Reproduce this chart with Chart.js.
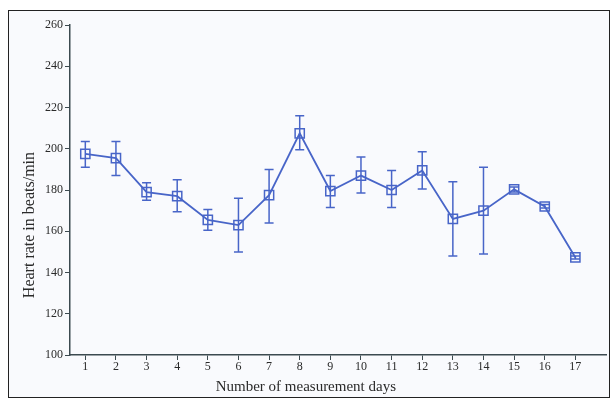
<!DOCTYPE html>
<html>
<head>
<meta charset="utf-8">
<script src="https://cdn.jsdelivr.net/npm/chart.js@4/dist/chart.umd.min.js"></script>
<style>
  html, body { margin: 0; padding: 0; background: #ffffff; }
  #wrap { position: relative; width: 614px; height: 401px; }
  #frame {
    position: absolute; left: 8px; top: 10px; width: 602px; height: 388px;
    border: 1px solid #222; background: #f9fafd; box-sizing: border-box;
  }
  #chart { position: absolute; left: 0; top: 0; }
</style>
</head>
<body>
<div id="wrap">
  <div id="frame"></div>
  <canvas id="chart" width="614" height="401"></canvas>
</div>
<script>
// measurement days and heart rate (beats/min) with error bar limits
const days = [1, 2, 3, 4, 5, 6, 7, 8, 9, 10, 11, 12, 13, 14, 15, 16, 17];
const heartRate = [197.5, 195.5, 179, 177, 165.5, 163, 177.5, 207.5, 179.5, 187, 180, 189.5, 166, 170, 180.3, 172, 147.3];
const upper = [203.5, 203.5, 183.5, 185, 170.5, 176, 190, 216, 187, 196, 189.5, 198.5, 184, 191, 181.5, 173, 148];
const lower = [191, 187, 175, 169.5, 160.5, 150, 164, 199.5, 171.5, 178.5, 171.5, 180.5, 148, 149, 179, 171.3, 146.5];
const yTicks = [100, 120, 140, 160, 180, 200, 220, 240, 260];

const xTitle = 'Number of measurement days';
const yTitle = 'Heart rate in beats/min';

const blue = '#4865c8';
const axisColor = '#3c4a50';
const serif = '"Liberation Serif", "DejaVu Serif", serif';

const errorBars = {
    id: 'errorBars',
    beforeDatasetsDraw(chart) {
        const { ctx, scales: { x, y } } = chart;
        ctx.save();
        ctx.strokeStyle = blue;
        ctx.lineWidth = 1.5;
        days.forEach((d, i) => {
            const px = x.getPixelForValue(d);
            const top = y.getPixelForValue(upper[i]);
            const bot = y.getPixelForValue(lower[i]);
            ctx.beginPath();
            ctx.moveTo(px, top); ctx.lineTo(px, bot);
            ctx.moveTo(px - 4.5, top); ctx.lineTo(px + 4.5, top);
            ctx.moveTo(px - 4.5, bot); ctx.lineTo(px + 4.5, bot);
            ctx.stroke();
        });
        ctx.restore();
    }
};

const axisTitles = {
    id: 'axisTitles',
    afterDraw(chart) {
        const { ctx, scales: { x, y } } = chart;
        ctx.save();
        ctx.fillStyle = '#2a2a2a';
        ctx.textAlign = 'center';
        ctx.textBaseline = 'middle';
        ctx.font = '15px ' + serif;
        ctx.fillText(xTitle, x.getPixelForValue(8.2), 387);
        ctx.translate(30, y.getPixelForValue(163));
        ctx.rotate(-Math.PI / 2);
        ctx.font = '16px ' + serif;
        ctx.fillText(yTitle, 0, 0);
        ctx.restore();
    }
};

const tickGrid = {
    display: true,
    drawOnChartArea: false,
    drawTicks: true,
    tickLength: 5,
    color: axisColor,
    lineWidth: 1
};

new Chart(document.getElementById('chart'), {
    type: 'line',
    data: {
        datasets: [{
            data: days.map((d, i) => ({ x: d, y: heartRate[i] })),
            borderColor: blue,
            borderWidth: 1.8,
            tension: 0,
            pointStyle: 'rect',
            pointRadius: 6.5,
            pointBorderWidth: 1.5,
            pointBorderColor: blue,
            pointBackgroundColor: 'rgba(0,0,0,0)',
            fill: false
        }]
    },
    options: {
        responsive: false,
        animation: false,
        layout: { padding: { left: 8, right: 6, top: 25, bottom: 0 } },
        plugins: { legend: { display: false }, tooltip: { enabled: false } },
        scales: {
            x: {
                type: 'linear',
                min: 0.5,
                max: 18,
                afterBuildTicks: (scale) => { scale.ticks = days.map(v => ({ value: v })); },
                afterFit: (scale) => { scale.height = 46; },
                grid: tickGrid,
                border: { color: axisColor, width: 1.5 },
                ticks: {
                    color: '#2a2a2a',
                    font: { family: serif, size: 12 },
                    padding: 0,
                    maxRotation: 0,
                    autoSkip: false
                }
            },
            y: {
                min: 100,
                max: 260,
                afterBuildTicks: (scale) => { scale.ticks = yTicks.map(v => ({ value: v })); },
                afterFit: (scale) => { scale.width = 62; },
                grid: tickGrid,
                border: { color: axisColor, width: 1.5 },
                ticks: {
                    color: '#2a2a2a',
                    font: { family: serif, size: 12 },
                    padding: 2
                }
            }
        }
    },
    plugins: [errorBars, axisTitles]
});
</script>
</body>
</html>
